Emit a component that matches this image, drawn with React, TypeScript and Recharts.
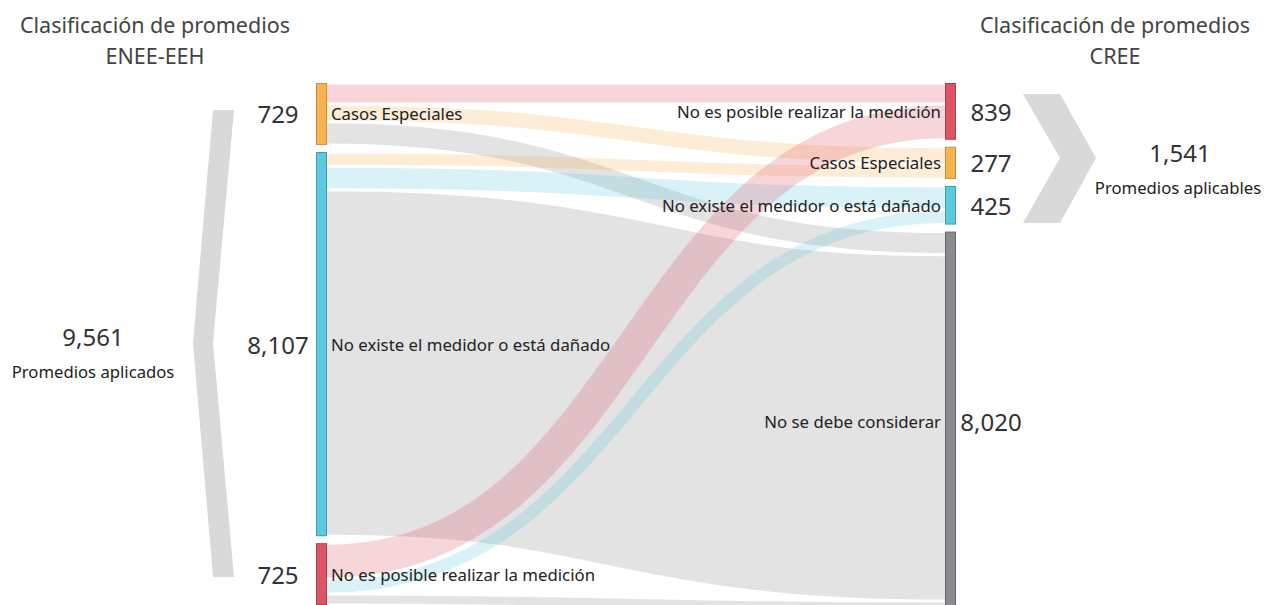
import React from "react";
import { Sankey } from "recharts";

// ---------- data ----------
const leftCategories = [
  "Casos Especiales",
  "No existe el medidor o está dañado",
  "No es posible realizar la medición",
];
const rightCategories = [
  "No es posible realizar la medición",
  "Casos Especiales",
  "No existe el medidor o está dañado",
  "No se debe considerar",
];
// flows from each left category to each right category (same order as rightCategories)
const fromCasosEspeciales = [250, 180, 0, 299];
const fromNoExisteMedidor = [0, 97, 309, 7701];
const fromNoEsPosible = [589, 0, 116, 20];
const flowRows = [fromCasosEspeciales, fromNoExisteMedidor, fromNoEsPosible];

const leftTitle = ["Clasificación de promedios", "ENEE-EEH"];
const rightTitle = ["Clasificación de promedios", "CREE"];
const leftSummaryLabel = "Promedios aplicados";
const rightSummaryLabel = "Promedios aplicables";
const excludedCategory = "No se debe considerar";

// ---------- styles ----------
const FONT = '"Noto Sans", "Open Sans", sans-serif';
// the reference draws every band with a minimum thickness on top of its proportional part
const BAND_BASE = 230;
const COLORS: Record<string, { fill: string; stroke: string }> = {
  "Casos Especiales": { fill: "#f6b352", stroke: "#d28f35" },
  "No existe el medidor o está dañado": { fill: "#5ec9dd", stroke: "#3b9fb2" },
  "No es posible realizar la medición": { fill: "#dc5564", stroke: "#a9404c" },
  "No se debe considerar": { fill: "#8a8b8f", stroke: "#66676b" },
};

const fmt = (v: number) => v.toLocaleString("en-US");

const leftTotals = flowRows.map((r) => r.reduce((a, b) => a + b, 0));
const rightTotals = rightCategories.map((_, j) =>
  flowRows.reduce((a, r) => a + r[j], 0)
);
const grandTotal = leftTotals.reduce((a, b) => a + b, 0);
const applicableTotal = rightCategories.reduce(
  (a, name, j) => (name === excludedCategory ? a : a + rightTotals[j]),
  0
);

const nodes = [
  ...leftCategories.map((name, i) => ({ name, side: "L", total: leftTotals[i] })),
  ...rightCategories.map((name, j) => ({ name, side: "R", total: rightTotals[j] })),
];
const links: { source: number; target: number; value: number; amount: number }[] = [];
flowRows.forEach((row, i) =>
  row.forEach((v, j) => {
    if (v > 0)
      links.push({
        source: i,
        target: leftCategories.length + j,
        value: v + BAND_BASE,
        amount: v,
      });
  })
);

const LinkShape = (props: any) => {
  const {
    sourceX,
    targetX,
    sourceY,
    targetY,
    sourceControlX,
    targetControlX,
    linkWidth,
    payload,
  } = props;
  const name = payload?.target?.name;
  const c = COLORS[name] || COLORS["No se debe considerar"];
  return (
    <path
      d={`M${sourceX},${sourceY}C${sourceControlX},${sourceY} ${targetControlX},${targetY} ${targetX},${targetY}`}
      fill="none"
      stroke={c.fill}
      strokeOpacity={0.24}
      strokeWidth={Math.max(1, linkWidth - 3)}
    />
  );
};

const NodeShape = (props: any) => {
  const { x, y, width, height, payload } = props;
  const c = COLORS[payload.name];
  const cy = y + height / 2;
  const isLeft = payload.side === "L";
  return (
    <g>
      <rect
        x={x + 0.5}
        y={y + 0.5}
        width={width - 1}
        height={height - 1}
        fill={c.fill}
        stroke={c.stroke}
        strokeWidth={1}
      />
      <text
        x={isLeft ? x + width + 4 : x - 4}
        y={cy}
        textAnchor={isLeft ? "start" : "end"}
        dominantBaseline="central"
        fontSize={16.8}
        fontFamily={FONT}
        fill="#222"
      >
        {payload.name}
      </text>
      <text
        x={isLeft ? x - 38 : x + width + 35}
        y={cy}
        textAnchor="middle"
        dominantBaseline="central"
        fontSize={24}
        fontFamily={FONT}
        fill="#333"
      >
        {fmt(payload.total)}
      </text>
    </g>
  );
};

export default function App() {
  return (
    <div
      style={{
        position: "absolute",
        left: 0,
        top: 0,
        width: 1273,
        height: 605,
        overflow: "hidden",
        background: "#fff",
      }}
    >
      <svg
        width={1273}
        height={605}
        style={{ position: "absolute", left: 0, top: 0 }}
      >
        <g fontFamily={FONT} fill="#444" textAnchor="middle">
          <text x={155} y={24} fontSize={21.5} dominantBaseline="central">
            {leftTitle[0]}
          </text>
          <text x={155} y={55} fontSize={21.5} dominantBaseline="central">
            {leftTitle[1]}
          </text>
          <text x={1115} y={24} fontSize={21.5} dominantBaseline="central">
            {rightTitle[0]}
          </text>
          <text x={1115} y={55} fontSize={21.5} dominantBaseline="central">
            {rightTitle[1]}
          </text>
        </g>
        <polygon
          points="213,110 234,110 213,343 234,577 213,577 193,343"
          fill="#d9d9d9"
        />
        <polygon
          points="1023,94 1060,94 1096,158 1060,223 1023,223 1060,158"
          fill="#d9d9d9"
        />
        <g fontFamily={FONT} textAnchor="middle" fill="#333">
          <text x={93} y={336} fontSize={24} dominantBaseline="central">
            {fmt(grandTotal)}
          </text>
          <text x={93} y={371} fontSize={16.7} dominantBaseline="central" fill="#222">
            {leftSummaryLabel}
          </text>
          <text x={1180} y={152} fontSize={24} dominantBaseline="central">
            {fmt(applicableTotal)}
          </text>
          <text x={1178} y={187} fontSize={16.7} dominantBaseline="central" fill="#222">
            {rightSummaryLabel}
          </text>
        </g>
      </svg>
      <div style={{ position: "absolute", left: 0, top: 0 }}>
        <Sankey
          width={1273}
          height={612}
          data={{ nodes, links }}
          nodeWidth={11}
          nodePadding={7}
          iterations={0}
          margin={{ top: 83, right: 317, bottom: 0, left: 316 }}
          link={LinkShape}
          node={NodeShape}
        />
      </div>
    </div>
  );
}
